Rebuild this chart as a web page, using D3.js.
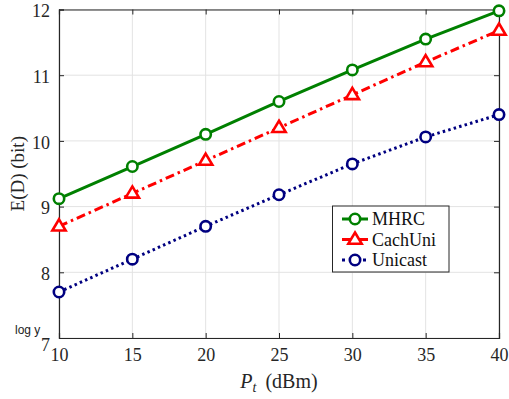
<!DOCTYPE html>
<html><head><meta charset="utf-8">
<script src="https://cdn.jsdelivr.net/npm/d3@7"></script>
</head><body style="margin:0">
<svg id="c" width="509" height="399" font-family="Liberation Serif"></svg>
<script>
const xValues = [10, 15, 20, 25, 30, 35, 40];
const mhrc = [9.12, 9.61, 10.1, 10.6, 11.08, 11.55, 11.98];
const cachUni = [8.7, 9.2, 9.7, 10.2, 10.7, 11.2, 11.68];
const unicast = [7.7, 8.2, 8.7, 9.18, 9.65, 10.06, 10.4];
const xTicks = [10, 15, 20, 25, 30, 35, 40];
const yTicks = [7, 8, 9, 10, 11, 12];
const seriesNames = ["MHRC", "CachUni", "Unicast"];

const SERIF = "Liberation Serif";
const SANS = "Liberation Sans";
const svg = d3.select("#c");
const L = 59, R = 499, T = 9.5, B = 338;
const x = d3.scaleLinear().domain([10, 40]).range([L, R]);
const y = d3.scaleLinear().domain([7, 12]).range([B, T]);

// grid
svg.append("g").selectAll("line").data(xTicks).join("line")
  .attr("x1", d => x(d)).attr("x2", d => x(d)).attr("y1", T).attr("y2", B)
  .attr("stroke", "#e3e3e3").attr("stroke-width", 1);
svg.append("g").selectAll("line").data(yTicks).join("line")
  .attr("y1", d => y(d)).attr("y2", d => y(d)).attr("x1", L).attr("x2", R)
  .attr("stroke", "#e3e3e3").attr("stroke-width", 1);

// axes
const axColor = "#262626";
const fmt = d3.format("d");
const xb = svg.append("g").attr("transform", `translate(0,${B})`)
  .call(d3.axisBottom(x).tickValues(xTicks).tickFormat(fmt).tickSize(-5).tickPadding(10));
const xt = svg.append("g").attr("transform", `translate(0,${T})`)
  .call(d3.axisTop(x).tickValues(xTicks).tickSize(-5).tickFormat(""));
const yl = svg.append("g").attr("transform", `translate(${L},0)`)
  .call(d3.axisLeft(y).tickValues(yTicks).tickFormat(fmt).tickSize(-5).tickPadding(9));
const yr = svg.append("g").attr("transform", `translate(${R},0)`)
  .call(d3.axisRight(y).tickValues(yTicks).tickSize(-5).tickFormat(""));
[xb, xt, yl, yr].forEach(g => {
  g.attr("font-family", SERIF).attr("font-size", 18);
  g.select(".domain").attr("stroke", axColor).attr("stroke-width", 1.2);
  g.selectAll(".tick line").attr("stroke", axColor).attr("stroke-width", 1);
  g.selectAll("text").attr("fill", axColor).attr("font-family", SERIF).attr("font-size", 18);
});
yl.selectAll("text").attr("dy", "0.4em");
yl.selectAll(".tick").filter(d => d === 7).select("text").attr("dy", "0.7em");

// labels
svg.append("text").attr("x", 15).attr("y", 334).text("log y")
  .attr("font-family", SANS).attr("font-size", 12).attr("fill", "#222");
const xl = svg.append("text").attr("x", 279).attr("y", 388).attr("text-anchor", "middle")
  .attr("font-family", SERIF).attr("font-size", 20).attr("fill", axColor);
xl.append("tspan").text("P").attr("font-style", "italic");
xl.append("tspan").text("t").attr("font-style", "italic").attr("font-size", 14).attr("dy", 4);
xl.append("tspan").text(" (dBm)").attr("dy", -4).attr("dx", 4);
svg.append("text").attr("transform", `translate(24,${(T + B) / 2}) rotate(-90)`)
  .attr("text-anchor", "middle").text("E(D) (bit)")
  .attr("font-family", SERIF).attr("font-size", 19).attr("fill", axColor);

// series
const series = [
  {name: seriesNames[0], vals: mhrc, color: "#008000", dash: null, marker: "circle"},
  {name: seriesNames[1], vals: cachUni, color: "#ff0000", dash: "9,4,2.5,4", marker: "tri"},
  {name: seriesNames[2], vals: unicast, color: "#000080", dash: "2.5,3.2", marker: "circle"}
];
const line = d3.line().x((d, i) => x(xValues[i])).y(d => y(d));
function drawMarker(g, type, cx, cy, color) {
  if (type === "circle") {
    g.append("circle").attr("cx", cx).attr("cy", cy).attr("r", 5.2)
      .attr("fill", "#fff").attr("stroke", color).attr("stroke-width", 2.6);
  } else {
    const s = 7;
    g.append("path").attr("d", `M${cx},${cy - s} L${cx + s * 0.95},${cy + s * 0.6} L${cx - s * 0.95},${cy + s * 0.6} Z`)
      .attr("fill", "#fff").attr("stroke", color).attr("stroke-width", 2.6).attr("stroke-linejoin", "miter");
  }
}
series.forEach(s => {
  svg.append("path").datum(s.vals).attr("d", line).attr("fill", "none")
    .attr("stroke", s.color).attr("stroke-width", 3)
    .attr("stroke-dasharray", s.dash);
  const g = svg.append("g");
  s.vals.forEach((v, i) => drawMarker(g, s.marker, x(xValues[i]), y(v), s.color));
});

// legend
const lg = svg.append("g");
lg.append("rect").attr("x", 332.5).attr("y", 206).attr("width", 116.5).attr("height", 66)
  .attr("fill", "#fff").attr("stroke", axColor).attr("stroke-width", 1);
series.forEach((s, i) => {
  const ly = 219 + i * 20.5;
  lg.append("line").attr("x1", 342).attr("x2", 368).attr("y1", ly).attr("y2", ly)
    .attr("stroke", s.color).attr("stroke-width", 3).attr("stroke-dasharray", s.dash ? (i === 1 ? "10,6" : "3,4") : null);
  drawMarker(lg, s.marker, 355, ly, s.color);
  lg.append("text").attr("x", 372).attr("y", ly + 6).text(s.name)
    .attr("font-family", SERIF).attr("font-size", 18).attr("fill", "#111");
});
</script>
</body></html>
